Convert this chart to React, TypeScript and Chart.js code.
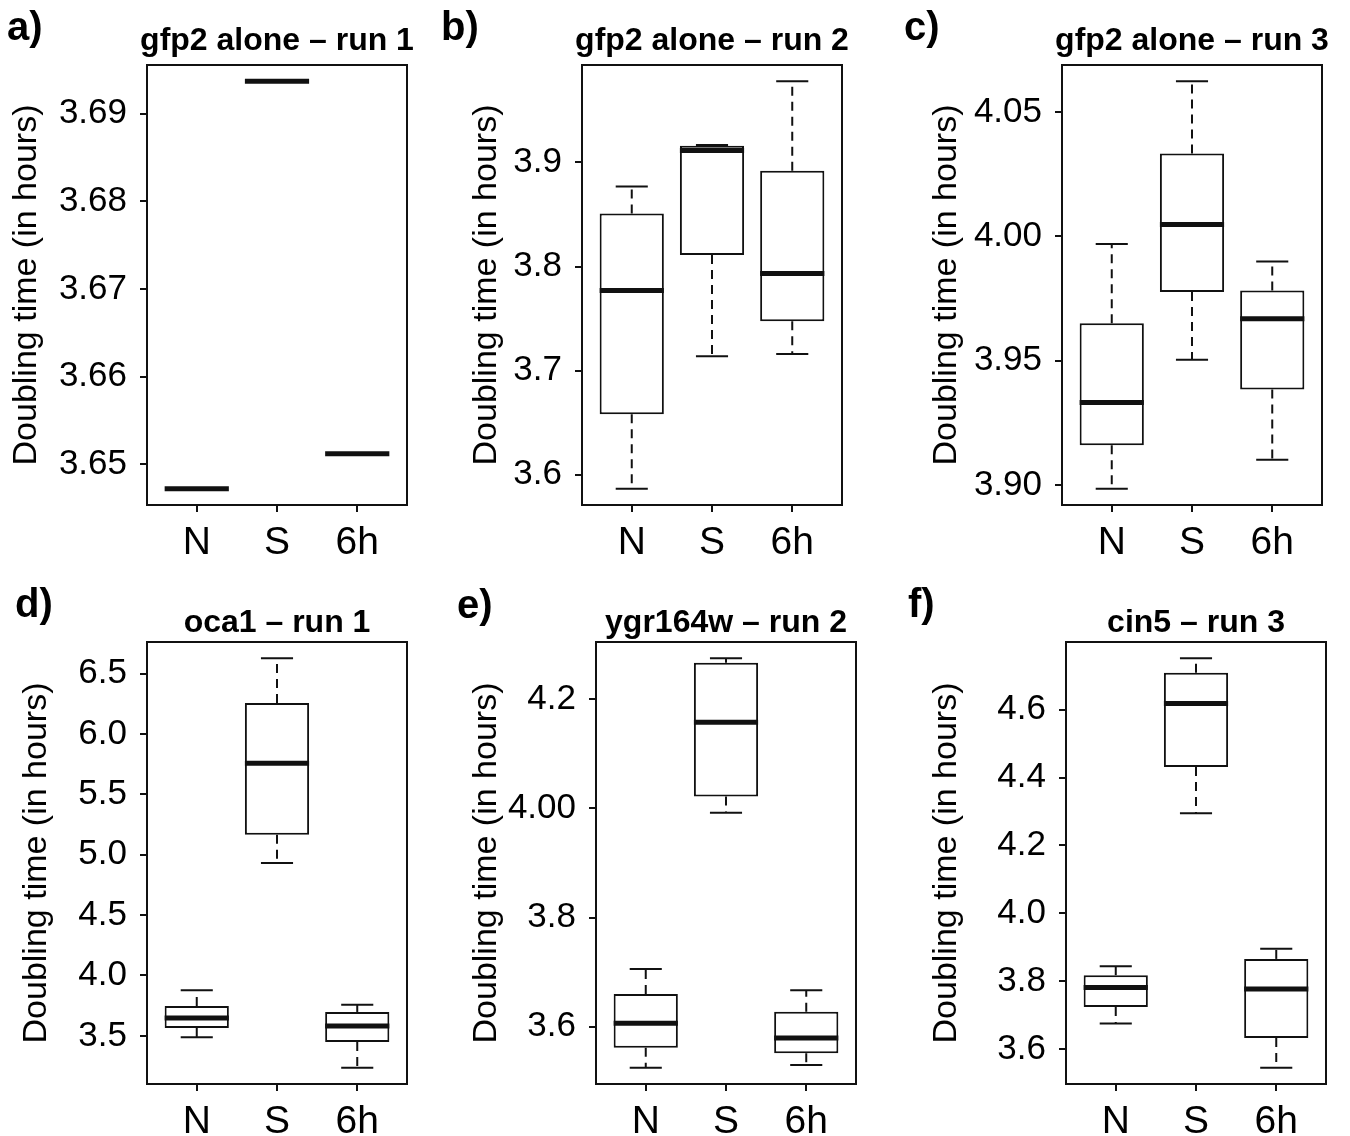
import React, { useEffect, useRef } from "react";
import { Chart, registerables } from "chart.js";

Chart.register(...registerables);

const FONT = "'Liberation Sans', Arial, Helvetica, sans-serif";
const INK = "#111111";
const TEXT = "#000000";

const categories = ["N", "S", "6h"];
const yAxisTitle = "Doubling time (in hours)";

// a) gfp2 alone – run 1
const aTitle = "gfp2 alone \u2013 run 1";
const aMin = [3.6472, 3.6937, 3.6512];
const aQ1 = [3.6472, 3.6937, 3.6512];
const aMed = [3.6472, 3.6937, 3.6512];
const aQ3 = [3.6472, 3.6937, 3.6512];
const aMax = [3.6472, 3.6937, 3.6512];
const aTicks = [3.65, 3.66, 3.67, 3.68, 3.69];
const aTickLabels = ["3.65", "3.66", "3.67", "3.68", "3.69"];

// b) gfp2 alone – run 2
const bTitle = "gfp2 alone \u2013 run 2";
const bMin = [3.5865, 3.7137, 3.716];
const bQ1 = [3.658, 3.811, 3.7474];
const bMed = [3.777, 3.9115, 3.7933];
const bQ3 = [3.851, 3.916, 3.892];
const bMax = [3.877, 3.9167, 3.978];
const bTicks = [3.6, 3.7, 3.8, 3.9];
const bTickLabels = ["3.6", "3.7", "3.8", "3.9"];

// c) gfp2 alone – run 3
const cTitle = "gfp2 alone \u2013 run 3";
const cMin = [3.8985, 3.9503, 3.9101];
const cQ1 = [3.916, 3.9776, 3.9384];
const cMed = [3.9332, 4.0047, 3.9668];
const cQ3 = [3.965, 4.0333, 3.9782];
const cMax = [3.9969, 4.0623, 3.9898];
const cTicks = [3.9, 3.95, 4.0, 4.05];
const cTickLabels = ["3.90", "3.95", "4.00", "4.05"];

// d) oca1 – run 1
const dTitle = "oca1 \u2013 run 1";
const dMin = [3.488, 4.931, 3.237];
const dQ1 = [3.566, 5.165, 3.449];
const dMed = [3.647, 5.757, 3.581];
const dQ3 = [3.748, 6.257, 3.698];
const dMax = [3.877, 6.626, 3.757];
const dTicks = [3.5, 4.0, 4.5, 5.0, 5.5, 6.0, 6.5];
const dTickLabels = ["3.5", "4.0", "4.5", "5.0", "5.5", "6.0", "6.5"];

// e) ygr164w – run 2
const eTitle = "ygr164w \u2013 run 2";
const eMin = [3.5253, 3.9923, 3.5299];
const eQ1 = [3.5617, 4.022, 3.5517];
const eMed = [3.6066, 4.1577, 3.5795];
const eQ3 = [3.66, 4.2668, 3.6278];
const eMax = [3.706, 4.2748, 3.6668];
const eTicks = [3.6, 3.8, 4.0, 4.2];
const eTickLabels = ["3.6", "3.8", "4.00", "4.2"];

// f) cin5 – run 3
const fTitle = "cin5 \u2013 run 3";
const fMin = [3.6746, 4.2944, 3.5447];
const fQ1 = [3.7235, 4.4307, 3.632];
const fMed = [3.781, 4.6181, 3.7768];
const fQ3 = [3.8173, 4.7086, 3.8652];
const fMax = [3.8439, 4.7512, 3.895];
const fTicks = [3.6, 3.8, 4.0, 4.2, 4.4, 4.6];
const fTickLabels = ["3.6", "3.8", "4.0", "4.2", "4.4", "4.6"];

type Layout = {
  x0: number; y0: number;
  l: number; r: number; t: number; b: number;
  letterX: number; letterBase: number; titleBase: number; ylabX: number;
};

type PanelDef = {
  letter: string; title: string;
  min: number[]; q1: number[]; med: number[]; q3: number[]; max: number[];
  ticks: number[]; tickLabels: string[];
  lay: Layout;
};

const CW = 427;
const CH = 568;
const XH = 50;

const panels: PanelDef[] = [
  { letter: "a)", title: aTitle, min: aMin, q1: aQ1, med: aMed, q3: aQ3, max: aMax, ticks: aTicks, tickLabels: aTickLabels,
    lay: { x0: 0, y0: 0, l: 147, r: 407, t: 65, b: 505, letterX: 7, letterBase: 40, titleBase: 50, ylabX: 27 } },
  { letter: "b)", title: bTitle, min: bMin, q1: bQ1, med: bMed, q3: bQ3, max: bMax, ticks: bTicks, tickLabels: bTickLabels,
    lay: { x0: 435, y0: 0, l: 582, r: 842, t: 65, b: 505, letterX: 441, letterBase: 40, titleBase: 50, ylabX: 487 } },
  { letter: "c)", title: cTitle, min: cMin, q1: cQ1, med: cMed, q3: cQ3, max: cMax, ticks: cTicks, tickLabels: cTickLabels,
    lay: { x0: 915, y0: 0, l: 1062, r: 1322, t: 65, b: 505, letterX: 904, letterBase: 40, titleBase: 50, ylabX: 947 } },
  { letter: "d)", title: dTitle, min: dMin, q1: dQ1, med: dMed, q3: dQ3, max: dMax, ticks: dTicks, tickLabels: dTickLabels,
    lay: { x0: 0, y0: 568, l: 147, r: 407, t: 642, b: 1084, letterX: 15, letterBase: 617, titleBase: 632, ylabX: 37 } },
  { letter: "e)", title: eTitle, min: eMin, q1: eQ1, med: eMed, q3: eQ3, max: eMax, ticks: eTicks, tickLabels: eTickLabels,
    lay: { x0: 449, y0: 568, l: 596, r: 856, t: 642, b: 1084, letterX: 457, letterBase: 618, titleBase: 632, ylabX: 487 } },
  { letter: "f)", title: fTitle, min: fMin, q1: fQ1, med: fMed, q3: fQ3, max: fMax, ticks: fTicks, tickLabels: fTickLabels,
    lay: { x0: 919, y0: 568, l: 1066, r: 1326, t: 642, b: 1084, letterX: 908, letterBase: 617, titleBase: 632, ylabX: 947 } },
];

function line(ctx: CanvasRenderingContext2D, x1: number, y1: number, x2: number, y2: number) {
  ctx.beginPath();
  ctx.moveTo(x1, y1);
  ctx.lineTo(x2, y2);
  ctx.stroke();
}

function makeExtras(p: PanelDef) {
  return {
    id: "boxExtras",
    afterDatasetsDraw(chart: any) {
      const { ctx, chartArea: a, scales } = chart;
      const xs = scales.x;
      const ys = scales.y;
      const meta = chart.getDatasetMeta(0);
      ctx.save();
      ctx.strokeStyle = INK;
      ctx.lineCap = "butt";
      meta.data.forEach((bar: any, i: number) => {
        const cx = xs.getPixelForValue(i + 1);
        const w = bar.width;
        const yMin = ys.getPixelForValue(p.min[i]);
        const yQ1 = ys.getPixelForValue(p.q1[i]);
        const yMed = ys.getPixelForValue(p.med[i]);
        const yQ3 = ys.getPixelForValue(p.q3[i]);
        const yMax = ys.getPixelForValue(p.max[i]);
        ctx.lineWidth = 2;
        ctx.setLineDash([9, 6]);
        if (yQ3 - yMax > 0.5) line(ctx, cx, yQ3, cx, yMax);
        if (yMin - yQ1 > 0.5) line(ctx, cx, yQ1, cx, yMin);
        ctx.setLineDash([]);
        if (p.max[i] !== p.med[i]) line(ctx, cx - w / 4, yMax, cx + w / 4, yMax);
        if (p.min[i] !== p.med[i]) line(ctx, cx - w / 4, yMin, cx + w / 4, yMin);
        ctx.lineWidth = 5;
        line(ctx, cx - w / 2, yMed, cx + w / 2, yMed);
      });
      ctx.lineWidth = 2;
      ctx.strokeRect(a.left, a.top, a.right - a.left, a.bottom - a.top);

      ctx.fillStyle = TEXT;
      ctx.font = `bold 32px ${FONT}`;
      ctx.textAlign = "center";
      ctx.textBaseline = "alphabetic";
      ctx.fillText(p.title, (a.left + a.right) / 2, p.lay.titleBase - p.lay.y0);

      ctx.translate(p.lay.ylabX - p.lay.x0, (a.top + a.bottom) / 2);
      ctx.rotate(-Math.PI / 2);
      ctx.font = `34px ${FONT}`;
      ctx.textBaseline = "middle";
      ctx.fillText(yAxisTitle, 0, 0);
      ctx.restore();
    },
  };
}

function buildConfig(p: PanelDef): any {
  const L = p.lay;
  const lo = Math.min(...p.min);
  const hi = Math.max(...p.max);
  const ext = (hi - lo) * 0.04;
  const n = categories.length;
  const xExt = n * 0.04;
  const yw = L.l - L.x0;
  const padTop = L.t - L.y0;
  const padRight = L.x0 + CW - L.r;
  const padBottom = L.y0 + CH - L.b - XH;
  return {
    type: "bar",
    data: {
      labels: categories,
      datasets: [
        {
          data: categories.map((_, i) => ({ x: i + 1, y: [p.q1[i], p.q3[i]] })),
          backgroundColor: "#ffffff",
          borderColor: INK,
          borderWidth: 2,
          borderSkipped: false,
          barPercentage: 0.8,
          categoryPercentage: 1,
        },
      ],
    },
    options: {
      animation: false,
      responsive: false,
      devicePixelRatio: 1,
      events: [],
      layout: { padding: { left: 0, top: padTop, right: padRight, bottom: padBottom } },
      plugins: { legend: { display: false }, tooltip: { enabled: false }, title: { display: false } },
      scales: {
        x: {
          type: "linear",
          offset: false,
          min: 0.5 - xExt,
          max: n + 0.5 + xExt,
          afterBuildTicks: (s: any) => {
            s.ticks = categories.map((_, i) => ({ value: i + 1 }));
          },
          afterFit: (s: any) => {
            s.height = XH;
            s.paddingLeft = 0;
            s.paddingRight = 0;
          },
          grid: { display: true, offset: false, drawOnChartArea: false, drawTicks: true, tickLength: 7, color: INK, lineWidth: 2 },
          border: { display: false },
          ticks: {
            autoSkip: false,
            maxRotation: 0,
            minRotation: 0,
            padding: 8,
            color: TEXT,
            font: { family: FONT, size: 39 },
            callback: (_v: any, i: number) => categories[i],
          },
        },
        y: {
          type: "linear",
          min: lo - ext,
          max: hi + ext,
          afterBuildTicks: (s: any) => {
            s.ticks = p.ticks.map((v) => ({ value: v }));
          },
          afterFit: (s: any) => {
            s.width = yw;
            s.paddingTop = 0;
            s.paddingBottom = 0;
          },
          grid: { display: true, drawOnChartArea: false, drawTicks: true, tickLength: 7, color: INK, lineWidth: 2 },
          border: { display: false },
          ticks: {
            autoSkip: false,
            padding: 13,
            color: TEXT,
            font: { family: FONT, size: 35 },
            callback: (_v: any, i: number) => p.tickLabels[i],
          },
        },
      },
    },
    plugins: [makeExtras(p)],
  };
}

function Panel({ p }: { p: PanelDef }) {
  const ref = useRef<HTMLCanvasElement>(null);
  useEffect(() => {
    if (!ref.current) return;
    const chart = new Chart(ref.current, buildConfig(p));
    return () => chart.destroy();
  }, [p]);
  return (
    <canvas
      ref={ref}
      width={CW}
      height={CH}
      style={{ position: "absolute", left: p.lay.x0, top: p.lay.y0, width: CW, height: CH }}
    />
  );
}

const LETTER_SIZE = 40;

export default function App() {
  return (
    <div
      style={{
        position: "absolute",
        left: 0,
        top: 0,
        width: 1350,
        height: 1136,
        background: "#ffffff",
        overflow: "hidden",
      }}
    >
      {panels.map((p) => (
        <Panel key={p.letter} p={p} />
      ))}
      {panels.map((p) => (
        <div
          key={"l" + p.letter}
          style={{
            position: "absolute",
            left: p.lay.letterX,
            top: p.lay.letterBase - Math.round(LETTER_SIZE * 0.8465),
            fontFamily: FONT,
            fontWeight: "bold",
            fontSize: LETTER_SIZE,
            lineHeight: 1,
            color: TEXT,
            whiteSpace: "nowrap",
          }}
        >
          {p.letter}
        </div>
      ))}
    </div>
  );
}
